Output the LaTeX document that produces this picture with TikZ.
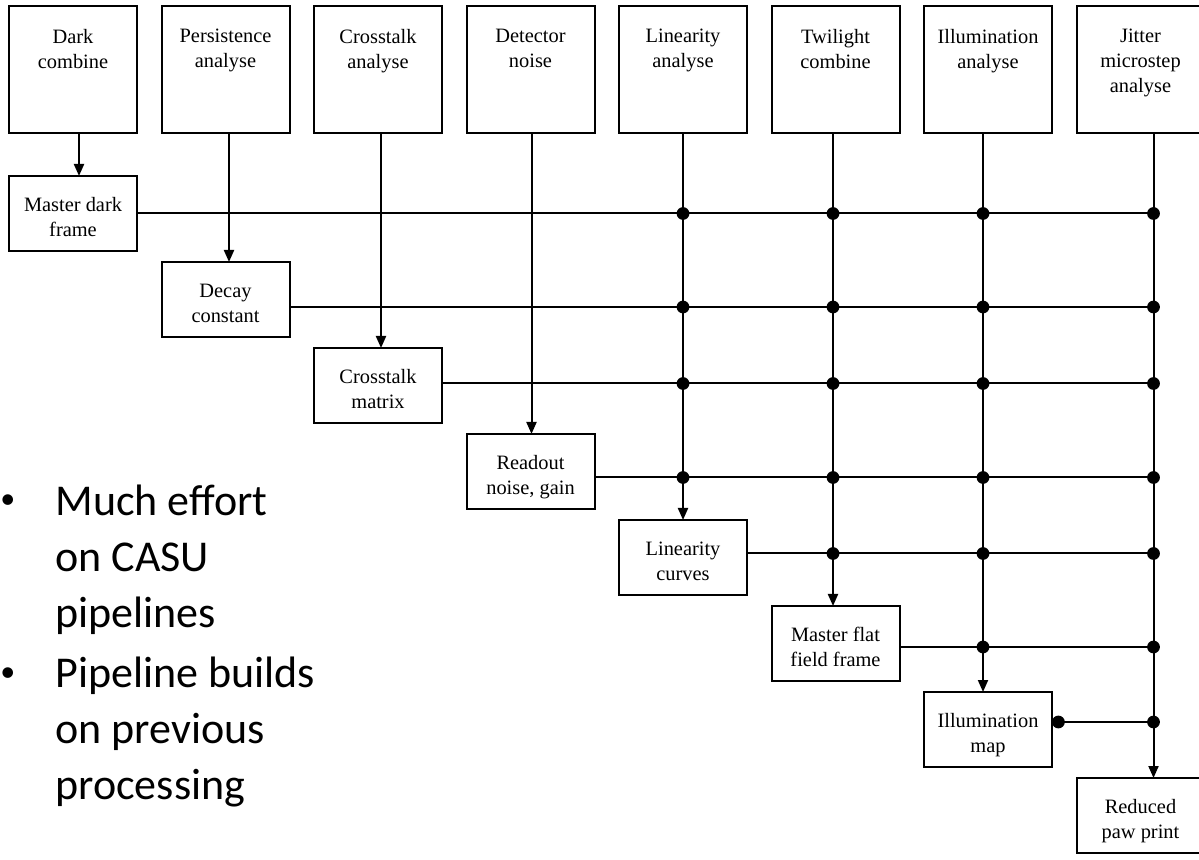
\documentclass[tikz,border=0pt]{standalone}
\usepackage{fontspec}
\setmainfont{Liberation Serif}
\newfontfamily\slidefont{Carlito}
\usepackage{tikz}
\usetikzlibrary{positioning,arrows.meta,calc}
\tikzset{
  topbox/.style ={rectangle, draw=black, line width=1pt, outer sep=0pt, inner sep=0pt,
                  minimum width=64pt, minimum height=63.5pt, label={[toptext]north:#1}},
  toptext/.style={anchor=north, yshift=-11.5pt, inner sep=0pt, align=center,
                  font=\fontsize{10.2}{12.3}\selectfont},
  lowbox/.style ={rectangle, draw=black, line width=1pt, outer sep=0pt, inner sep=0pt,
                  minimum width=64pt, minimum height=37.5pt, align=center,
                  text height=25pt, text depth=2pt,
                  font=\fontsize{10.2}{12.5}\selectfont},
  flow/.style   ={-{Triangle[length=6pt,width=5pt]}, line width=1pt},
  link/.style   ={line width=1pt},
  joint/.style  ={fill=black},
  point/.style  ={font=\slidefont\fontsize{22}{28}\selectfont, inner sep=0pt, align=left, anchor=base west},
  dotmark/.style={font=\slidefont\fontsize{15}{15}\selectfont, inner sep=0pt, anchor=base west},
}

\begin{document}
\begin{tikzpicture}[x=0.5pt, y=-0.5pt]
\useasboundingbox (0,0) rectangle (1199,860);
\node[topbox={Dark\\combine}, anchor=north west] (t1) at (9,6) {};
\node[topbox={Persistence\\analyse}, right=12.25pt of t1] (t2) {};
\node[topbox={Crosstalk\\analyse}, right=12.25pt of t2] (t3) {};
\node[topbox={Detector\\noise}, right=12.25pt of t3] (t4) {};
\node[topbox={Linearity\\analyse}, right=12.25pt of t4] (t5) {};
\node[topbox={Twilight\\combine}, right=12.25pt of t5] (t6) {};
\node[topbox={Illumination\\analyse}, right=12.25pt of t6] (t7) {};
\node[topbox={Jitter\\microstep\\analyse}, right=12.25pt of t7] (t8) {};

\node[lowbox, below=21.5pt of t1.south west, anchor=north west] (l1) {Master dark\\frame};
\node[lowbox, below right=5.5pt and 12.25pt of l1] (l2) {Decay\\constant};
\node[lowbox, below right=5.5pt and 12.25pt of l2] (l3) {Crosstalk\\matrix};
\node[lowbox, below right=5.5pt and 12.25pt of l3] (l4) {Readout\\noise, gain};
\node[lowbox, below right=5.5pt and 12.25pt of l4] (l5) {Linearity\\curves};
\node[lowbox, below right=5.5pt and 12.25pt of l5] (l6) {Master flat\\field frame};
\node[lowbox, below right=5.5pt and 12.25pt of l6] (l7) {Illumination\\map};
\node[lowbox, below right=5.5pt and 12.25pt of l7] (l8) {Reduced\\paw print};

\foreach \i/\dx in {1/3,2/1.75,3/1.5,4/0.5,5/0,6/-1.25,7/-2.5,8/6.5}
  \coordinate (c\i) at ([xshift=\dx pt]t\i.south);
\foreach \i/\dy in {1/0,2/-3.75,3/1,4/-3,5/2,6/-1.75,7/3.75}
  \coordinate (r\i) at ([yshift=\dy pt]l\i.east);

\foreach \i in {1,...,8}
  \draw[flow] (c\i) -- (c\i |- l\i.north);
\foreach \i in {1,...,7}
  \draw[link] (r\i) -- (c8 |- r\i);
\foreach \i/\first in {1/5,2/5,3/5,4/5,5/6,6/7,7/8}
  \foreach \j in {\first,...,8}
    \fill[joint] (c\j |- r\i) circle (3.2pt);
\fill[joint] ([xshift=3.2pt]r7) circle (3.2pt);

\node[dotmark] (b1) at (0,515) {\raisebox{3pt}{\textbullet}};
\node[point] (p1) at (55,627) {Much effort\\on CASU\\pipelines};
\node[dotmark] (b2) at (0,687) {\raisebox{3pt}{\textbullet}};
\node[point] (p2) at (55,799) {Pipeline builds\\on previous\\processing};
\end{tikzpicture}
\end{document}
